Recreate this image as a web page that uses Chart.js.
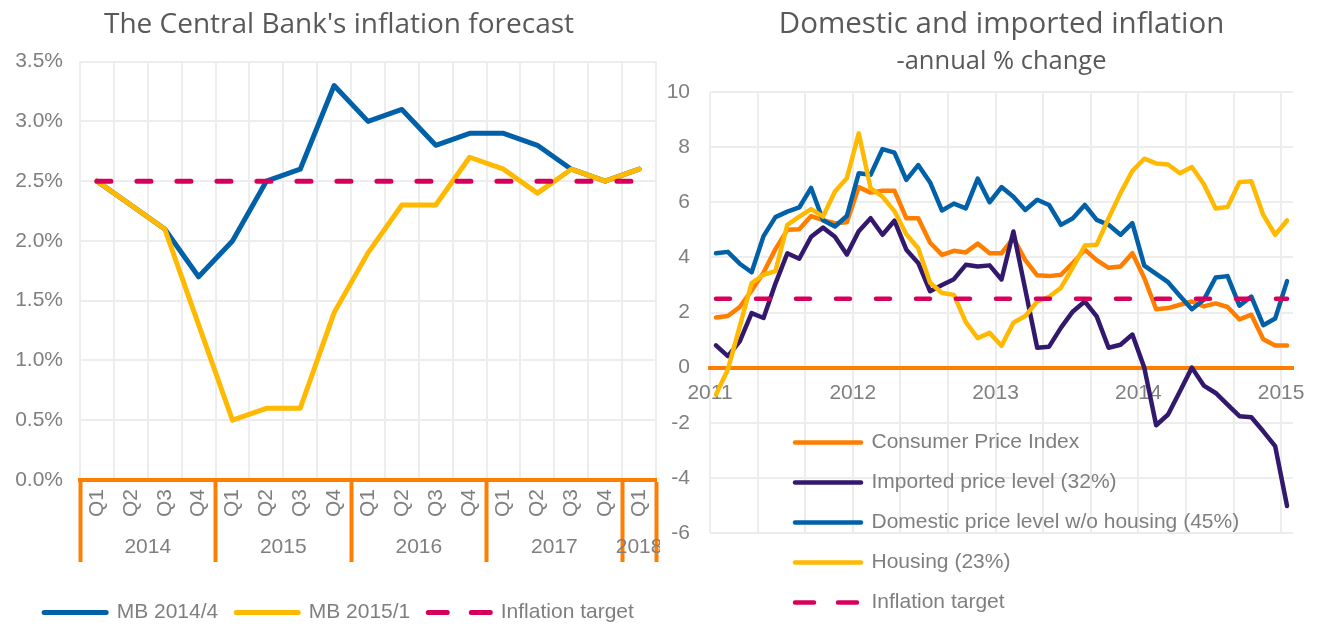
<!DOCTYPE html>
<html>
<head>
<meta charset="utf-8">
<title>Inflation forecast</title>
<script src="https://cdn.jsdelivr.net/npm/chart.js@4.4.1/dist/chart.umd.min.js"></script>
<style>
    html, body { margin: 0; padding: 0; background: #fff; }
    body { width: 1320px; height: 626px; position: relative; overflow: hidden; }
    canvas { position: absolute; top: 0; }
    #forecast-chart { left: 0; }
    #inflation-chart { left: 660px; }
</style>
</head>
<body>
<canvas id="forecast-chart" width="660" height="626"></canvas>
<canvas id="inflation-chart" width="660" height="626"></canvas>
<script>
// --- Left chart: quarterly inflation forecast ---
const quarters = ['Q1', 'Q2', 'Q3', 'Q4', 'Q1', 'Q2', 'Q3', 'Q4', 'Q1', 'Q2', 'Q3', 'Q4',
                  'Q1', 'Q2', 'Q3', 'Q4', 'Q1'];
const forecastYears = ['2014', '2015', '2016', '2017', '2018'];
const yearFirstQuarter = [0, 4, 8, 12, 16];
const yearLastQuarter = [3, 7, 11, 15, 16];
const mb2014q4 = [2.5, 2.3, 2.1, 1.7, 2.0, 2.5, 2.6, 3.3, 3.0, 3.1, 2.8, 2.9, 2.9, 2.8, 2.6, 2.5, 2.6];
const mb2015q1 = [2.5, 2.3, 2.1, 1.3, 0.5, 0.6, 0.6, 1.4, 1.9, 2.3, 2.3, 2.7, 2.6, 2.4, 2.6, 2.5, 2.6];
const targetQuarterly = [2.5, 2.5, 2.5, 2.5, 2.5, 2.5, 2.5, 2.5, 2.5, 2.5, 2.5, 2.5, 2.5, 2.5, 2.5, 2.5, 2.5];

// --- Right chart: monthly domestic vs imported inflation (Jan 2011 - Jan 2015) ---
const months = [
    'Jan 11', 'Feb 11', 'Mar 11', 'Apr 11', 'May 11', 'Jun 11', 'Jul 11', 'Aug 11', 'Sep 11', 'Oct 11', 'Nov 11', 'Dec 11',
    'Jan 12', 'Feb 12', 'Mar 12', 'Apr 12', 'May 12', 'Jun 12', 'Jul 12', 'Aug 12', 'Sep 12', 'Oct 12', 'Nov 12', 'Dec 12',
    'Jan 13', 'Feb 13', 'Mar 13', 'Apr 13', 'May 13', 'Jun 13', 'Jul 13', 'Aug 13', 'Sep 13', 'Oct 13', 'Nov 13', 'Dec 13',
    'Jan 14', 'Feb 14', 'Mar 14', 'Apr 14', 'May 14', 'Jun 14', 'Jul 14', 'Aug 14', 'Sep 14', 'Oct 14', 'Nov 14', 'Dec 14',
    'Jan 15'
];
const yearLabels = ['2011', '2012', '2013', '2014', '2015'];
const cpi = [1.82, 1.87, 2.2, 2.8, 3.45, 4.3, 5.0, 5.02, 5.5, 5.35, 5.24, 5.27,
             6.55, 6.35, 6.42, 6.42, 5.42, 5.42, 4.53, 4.09, 4.24, 4.18, 4.5, 4.15,
             4.15, 4.7, 3.9, 3.35, 3.32, 3.37, 3.8, 4.28, 3.9, 3.62, 3.67, 4.15,
             3.25, 2.12, 2.16, 2.28, 2.4, 2.22, 2.33, 2.2, 1.75, 1.92, 1.03, 0.8,
             0.8];
const imported = [0.81, 0.42, 0.95, 1.98, 1.8, 3.05, 4.15, 3.95, 4.75, 5.08, 4.75, 4.1,
                  4.95, 5.42, 4.82, 5.33, 4.28, 3.8, 2.77, 3.0, 3.21, 3.73, 3.67, 3.71,
                  3.2, 4.94, 2.83, 0.72, 0.76, 1.45, 2.04, 2.4, 1.86, 0.72, 0.83, 1.2,
                  0.0, -2.09, -1.7, -0.86, 0.0, -0.65, -0.92, -1.34, -1.76, -1.8, -2.31, -2.85,
                  -5.02];
const domestic = [4.15, 4.2, 3.77, 3.46, 4.77, 5.46, 5.66, 5.81, 6.52, 5.35, 5.12, 5.5,
                  7.05, 7.0, 7.93, 7.8, 6.81, 7.35, 6.72, 5.7, 5.95, 5.78, 6.86, 6.0,
                  6.55, 6.2, 5.72, 6.09, 5.9, 5.18, 5.42, 5.9, 5.36, 5.18, 4.82, 5.24,
                  3.7, 3.4, 3.1, 2.6, 2.12, 2.46, 3.27, 3.32, 2.25, 2.58, 1.54, 1.78,
                  3.14];
const housing = [-0.98, -0.07, 1.5, 3.07, 3.37, 3.5, 5.18, 5.48, 5.75, 5.48, 6.39, 6.87,
                 8.5, 6.51, 6.2, 5.68, 4.84, 4.33, 3.08, 2.71, 2.64, 1.65, 1.07, 1.26,
                 0.79, 1.63, 1.87, 2.4, 2.57, 2.9, 3.64, 4.43, 4.46, 5.42, 6.33, 7.14,
                 7.58, 7.41, 7.37, 7.05, 7.28, 6.66, 5.77, 5.83, 6.73, 6.76, 5.54, 4.82,
                 5.34];
const targetMonthly = [2.5, 2.5, 2.5, 2.5, 2.5, 2.5, 2.5, 2.5, 2.5, 2.5, 2.5, 2.5,
                       2.5, 2.5, 2.5, 2.5, 2.5, 2.5, 2.5, 2.5, 2.5, 2.5, 2.5, 2.5,
                       2.5, 2.5, 2.5, 2.5, 2.5, 2.5, 2.5, 2.5, 2.5, 2.5, 2.5, 2.5,
                       2.5, 2.5, 2.5, 2.5, 2.5, 2.5, 2.5, 2.5, 2.5, 2.5, 2.5, 2.5,
                       2.5];

// --- Styles ---
const BLUE = '#0061A8';
const YELLOW = '#FFB900';
const ORANGE = '#FF7E00';
const PURPLE = '#33196E';
const MAGENTA = '#D6005C';
const GRID = '#EDEDED';
const TEXT = '#7F7F7F';
const TITLE = '#595959';
const TITLE_FAMILY = "'Open Sans', 'Liberation Sans', sans-serif";
const LINE_DASH = [14, 26];
const LEGEND_DASH = [19, 24];

Chart.defaults.font.family = "'Liberation Sans', Arial, sans-serif";
Chart.defaults.font.size = 21;
Chart.defaults.color = TEXT;
Chart.defaults.animation = false;

function lineSet(label, data, color, width, order, dashed) {
    return {
        label: label,
        data: data,
        borderColor: color,
        backgroundColor: color,
        borderWidth: width,
        borderCapStyle: 'round',
        borderJoinStyle: 'round',
        borderDash: dashed ? LINE_DASH : [],
        pointRadius: 0,
        tension: 0,
        order: order
    };
}

// Legend symbols: a thick line (dashed for the target) like the series
function legendItems(chart) {
    const items = Chart.defaults.plugins.legend.labels.generateLabels(chart);
    items.forEach(item => {
        const ds = chart.data.datasets[item.datasetIndex];
        item.lineWidth = ds.borderWidth;
        item.lineDash = ds.borderDash.length ? LEGEND_DASH : [];
        item.lineCap = 'round';
        item.strokeStyle = ds.borderColor;
    });
    return items;
}

// ---------- Left chart ----------
// Year group boundaries and centres (in quarter index units)
const groupTicks = [];
yearFirstQuarter.forEach((first, i) => {
    groupTicks.push({ value: first - 0.5, label: '', edge: true });
    groupTicks.push({ value: (first + yearLastQuarter[i]) / 2, label: forecastYears[i], edge: false });
});
groupTicks.push({ value: yearLastQuarter[yearLastQuarter.length - 1] + 0.5, label: '', edge: true });

// keep the y tick labels from being clipped by the narrowed axis box
const widenYLabels = {
    id: 'widenYLabels',
    afterLayout(chart) {
        chart.scales.y.left = 0;
    }
};

new Chart(document.getElementById('forecast-chart'), {
    type: 'line',
    data: {
        labels: quarters,
        datasets: [
            lineSet('MB 2014/4', mb2014q4, BLUE, 5, 3, false),
            lineSet('MB 2015/1', mb2015q1, YELLOW, 5, 2, false),
            lineSet('Inflation target', targetQuarterly, MAGENTA, 5, 1, true)
        ]
    },
    plugins: [widenYLabels],
    options: {
        responsive: false,
        layout: { padding: { left: 22, right: 4, top: 0, bottom: -7 } },
        plugins: {
            title: {
                display: true,
                text: "The Central Bank's inflation forecast",
                color: TITLE,
                font: { family: TITLE_FAMILY, size: 28, weight: 'normal' },
                padding: { top: 8, bottom: 20 }
            },
            legend: {
                position: 'bottom',
                labels: {
                    usePointStyle: true,
                    pointStyle: 'line',
                    pointStyleWidth: 62,
                    padding: 18,
                    color: TEXT,
                    generateLabels: legendItems,
                    sort: (a, b) => a.datasetIndex - b.datasetIndex
                }
            },
            tooltip: { enabled: false }
        },
        scales: {
            x: {
                type: 'category',
                offset: true,
                grid: { offset: true, color: GRID, lineWidth: 2, drawTicks: false },
                border: { display: false },
                ticks: { minRotation: 90, maxRotation: 90, autoSkip: false, padding: 9 },
                afterFit: (scale) => {
                    scale.height = 104;
                    scale.paddingLeft = 0;
                    scale.paddingRight = 0;
                }
            },
            years: {
                axis: 'x',
                type: 'linear',
                position: { y: 0 },
                min: -0.5,
                max: quarters.length - 0.5,
                afterBuildTicks: (scale) => {
                    scale.ticks = groupTicks.map(t => ({ value: t.value }));
                },
                ticks: {
                    autoSkip: false,
                    maxRotation: 0,
                    padding: -25,
                    callback: (value) => {
                        const t = groupTicks.find(g => g.value === value);
                        return t ? t.label : '';
                    }
                },
                grid: {
                    drawOnChartArea: false,
                    drawTicks: true,
                    tickLength: 80,
                    tickWidth: 4,
                    tickColor: (ctx) => {
                        const t = ctx.tick && groupTicks.find(g => g.value === ctx.tick.value);
                        return t && t.edge ? ORANGE : 'rgba(0,0,0,0)';
                    }
                },
                border: { color: ORANGE, width: 4 },
                afterFit: (scale) => {
                    scale.paddingLeft = 0;
                    scale.paddingRight = 0;
                }
            },
            y: {
                min: 0,
                max: 3.5,
                ticks: {
                    stepSize: 0.5,
                    padding: 17,
                    callback: (v) => v.toFixed(1) + '%'
                },
                grid: { color: GRID, lineWidth: 2, drawTicks: false },
                border: { display: false },
                afterFit: (scale) => { scale.width = 58; }
            }
        }
    }
});

// ---------- Right chart ----------
// Vertical grid every 4 months, a year label every 12 months
const monthGridTicks = [];
for (let m = 0; m < months.length; m += 4) {
    monthGridTicks.push(m - 0.5);
}

const legendInPlot = {
    id: 'legendInPlot',
    afterLayout(chart) {
        const lg = chart.legend;
        const ca = chart.chartArea;
        lg.left = ca.left + 66;
        lg.top = ca.top + 321;
        lg.right = chart.width;
        lg.bottom = chart.height + 100;
        lg.width = lg.right - lg.left;
        lg.height = lg.bottom - lg.top;
    }
};

const toPoints = (values) => values.map((v, i) => ({ x: i, y: v }));

new Chart(document.getElementById('inflation-chart'), {
    type: 'line',
    data: {
        datasets: [
            lineSet('Consumer Price Index', toPoints(cpi), ORANGE, 4.5, 5, false),
            lineSet('Imported price level (32%)', toPoints(imported), PURPLE, 4.5, 4, false),
            lineSet('Domestic price level w/o housing (45%)', toPoints(domestic), BLUE, 4.5, 3, false),
            lineSet('Housing (23%)', toPoints(housing), YELLOW, 4.5, 2, false),
            lineSet('Inflation target', toPoints(targetMonthly), MAGENTA, 4.5, 1, true)
        ]
    },
    plugins: [legendInPlot],
    options: {
        responsive: false,
        layout: { padding: { left: 0, right: 27, top: 0, bottom: 93 } },
        plugins: {
            title: {
                display: true,
                fullSize: false,
                text: 'Domestic and imported inflation',
                color: TITLE,
                font: { family: TITLE_FAMILY, size: 29.5, weight: 'normal' },
                padding: { top: 7, bottom: 0 }
            },
            subtitle: {
                display: true,
                fullSize: false,
                text: '-annual % change',
                color: TITLE,
                font: { family: TITLE_FAMILY, size: 25.5, weight: 'normal' },
                padding: { top: 4, bottom: 15 }
            },
            legend: {
                position: 'chartArea',
                align: 'start',
                labels: {
                    usePointStyle: true,
                    pointStyle: 'line',
                    pointStyleWidth: 66,
                    padding: 19,
                    color: TEXT,
                    generateLabels: legendItems,
                    sort: (a, b) => a.datasetIndex - b.datasetIndex
                }
            },
            tooltip: { enabled: false }
        },
        scales: {
            x: {
                type: 'linear',
                position: { y: 0 },
                min: -0.5,
                max: months.length - 0.5,
                afterBuildTicks: (scale) => {
                    scale.ticks = monthGridTicks.map(v => ({ value: v }));
                },
                ticks: {
                    autoSkip: false,
                    maxRotation: 0,
                    padding: 13,
                    callback: (value, index) => (index % 3 === 0 ? yearLabels[index / 3] : '')
                },
                grid: { color: GRID, lineWidth: 2, drawTicks: false },
                border: { color: ORANGE, width: 4 }
            },
            y: {
                min: -6,
                max: 10,
                ticks: { stepSize: 2, padding: 20 },
                grid: { color: GRID, lineWidth: 2, drawTicks: false },
                border: { display: false },
                afterFit: (scale) => { scale.width = 50; }
            }
        }
    }
});
</script>
</body>
</html>
